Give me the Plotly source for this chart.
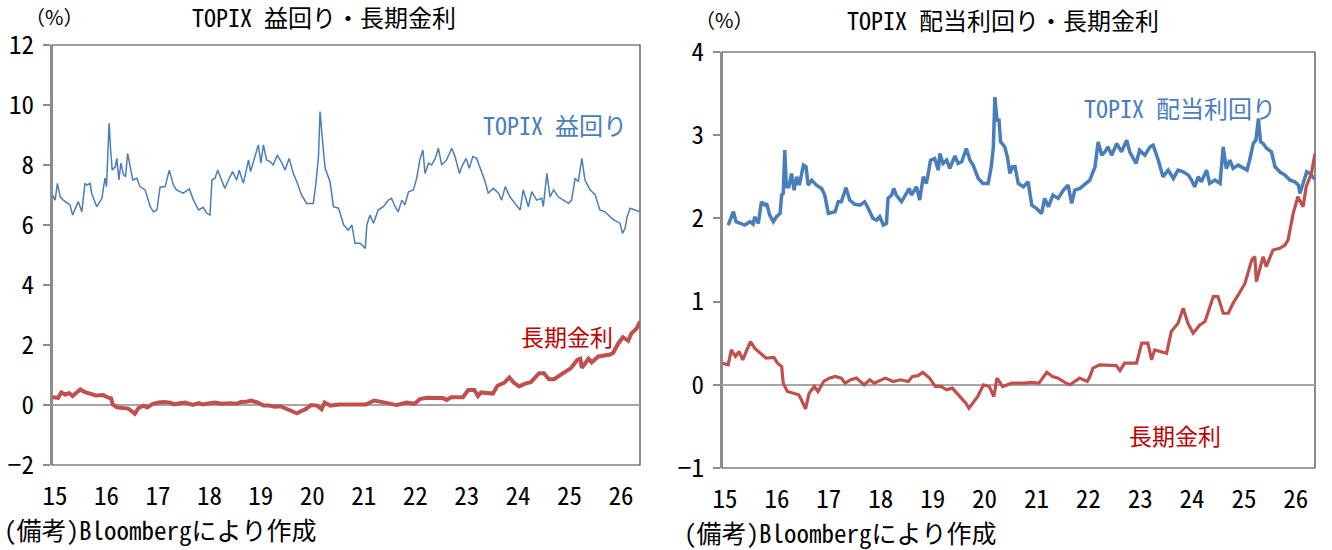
import plotly.graph_objects as go

# ---------------- data ----------------
XTICK_YEARS = [2015, 2016, 2017, 2018, 2019, 2020, 2021, 2022, 2023, 2024, 2025, 2026]
XTICK_TEXT = ["15", "16", "17", "18", "19", "20", "21", "22", "23", "24", "25", "26"]

# TOPIX earnings yield (%)
EY_T = [2014.95, 2015.00, 2015.045, 2015.10, 2015.16, 2015.29, 2015.34, 2015.45, 2015.52, 2015.58,
        2015.62, 2015.68, 2015.71, 2015.81, 2015.91, 2015.97, 2016.00, 2016.05, 2016.08, 2016.11,
        2016.17, 2016.20, 2016.24, 2016.28, 2016.33, 2016.37, 2016.41, 2016.46, 2016.51, 2016.59,
        2016.65, 2016.75, 2016.85, 2016.91, 2016.98, 2017.04, 2017.14, 2017.22, 2017.30, 2017.36,
        2017.49, 2017.61, 2017.69, 2017.79, 2017.88, 2017.95, 2018.01, 2018.05, 2018.11, 2018.16,
        2018.21, 2018.30, 2018.37, 2018.45, 2018.53, 2018.58, 2018.66, 2018.76, 2018.80, 2018.92,
        2018.95, 2019.00, 2019.05, 2019.11, 2019.18, 2019.24, 2019.32, 2019.41, 2019.47, 2019.55,
        2019.63, 2019.70, 2019.79, 2019.89, 2020.02, 2020.07, 2020.12, 2020.15, 2020.18, 2020.22,
        2020.25, 2020.31, 2020.345, 2020.41, 2020.51, 2020.61, 2020.70, 2020.77, 2020.83, 2020.93,
        2021.03, 2021.06, 2021.12, 2021.19, 2021.28, 2021.38, 2021.48, 2021.54, 2021.61, 2021.67,
        2021.74, 2021.80, 2021.87, 2021.965, 2022.03, 2022.09, 2022.15, 2022.19, 2022.26, 2022.32,
        2022.39, 2022.45, 2022.515, 2022.61, 2022.71, 2022.775, 2022.86, 2022.905, 2022.99, 2023.05,
        2023.12, 2023.195, 2023.29, 2023.36, 2023.42, 2023.52, 2023.62, 2023.68, 2023.75, 2023.84,
        2023.94, 2024.04, 2024.10, 2024.20, 2024.265, 2024.36, 2024.46, 2024.49, 2024.56, 2024.62,
        2024.69, 2024.78, 2024.88, 2024.98, 2025.04, 2025.11, 2025.17, 2025.24, 2025.30, 2025.40,
        2025.50, 2025.59, 2025.69, 2025.82, 2025.92, 2025.98, 2026.03, 2026.08, 2026.12, 2026.18,
        2026.27, 2026.37]
EY_V = [7.00, 6.83, 7.39, 6.94, 6.83, 6.67, 6.33, 6.78, 6.44, 7.39,
        7.33, 7.39, 7.06, 6.61, 6.89, 7.56, 7.28, 9.39, 8.50, 7.83,
        7.94, 8.22, 7.50, 8.06, 7.67, 7.61, 8.39, 7.89, 7.50, 7.56,
        7.28, 7.17, 6.61, 6.44, 6.50, 7.26, 7.28, 7.83, 7.33, 7.17,
        7.06, 7.20, 6.83, 6.50, 6.59, 6.39, 6.33, 7.50, 7.56, 7.83,
        7.61, 7.22, 7.50, 7.78, 7.50, 7.83, 7.39, 8.17, 7.78, 8.56,
        8.67, 8.06, 8.67, 8.17, 8.11, 8.00, 8.33, 8.06, 7.83, 8.22,
        7.72, 7.44, 7.00, 6.72, 6.72, 7.39, 8.28, 9.78, 9.06, 8.39,
        7.89, 7.56, 7.44, 6.61, 6.56, 6.00, 5.83, 6.00, 5.39, 5.39,
        5.22, 6.00, 6.33, 6.06, 6.50, 6.61, 6.83, 6.89, 6.61, 6.44,
        6.83, 6.67, 7.11, 7.17, 7.56, 8.17, 8.50, 7.72, 8.06, 8.00,
        8.22, 8.56, 8.00, 8.17, 8.56, 8.28, 7.72, 7.94, 8.22, 7.89,
        8.28, 8.22, 7.78, 7.44, 7.06, 7.22, 7.06, 6.83, 7.28, 6.94,
        6.72, 6.50, 7.17, 6.61, 7.11, 6.83, 6.89, 6.61, 7.72, 6.94,
        7.17, 6.94, 6.83, 6.72, 6.83, 7.56, 7.44, 8.22, 7.50, 7.17,
        7.00, 6.50, 6.44, 6.22, 6.11, 6.06, 5.72, 5.89, 6.28, 6.56,
        6.50, 6.44]

# TOPIX dividend yield (%)
DY_T = [2015.06, 2015.10, 2015.16, 2015.21, 2015.29, 2015.38, 2015.48, 2015.54, 2015.57, 2015.64,
        2015.70, 2015.77, 2015.80, 2015.86, 2015.93, 2015.99, 2016.06, 2016.09, 2016.12, 2016.15,
        2016.18, 2016.23, 2016.28, 2016.33, 2016.38, 2016.43, 2016.51, 2016.56, 2016.60, 2016.67,
        2016.76, 2016.86, 2016.92, 2016.99, 2017.12, 2017.18, 2017.24, 2017.33, 2017.40, 2017.50,
        2017.60, 2017.69, 2017.76, 2017.85, 2017.92, 2017.98, 2018.05, 2018.11, 2018.14, 2018.21,
        2018.25, 2018.30, 2018.40, 2018.46, 2018.55, 2018.59, 2018.69, 2018.75, 2018.82, 2018.88,
        2018.96, 2019.04, 2019.11, 2019.14, 2019.20, 2019.27, 2019.33, 2019.43, 2019.49, 2019.56,
        2019.65, 2019.72, 2019.78, 2019.88, 2019.97, 2020.07, 2020.13, 2020.17, 2020.20, 2020.24,
        2020.28, 2020.31, 2020.39, 2020.44, 2020.49, 2020.54, 2020.59, 2020.65, 2020.75, 2020.84,
        2020.91, 2021.00, 2021.10, 2021.16, 2021.23, 2021.32, 2021.42, 2021.52, 2021.61, 2021.68,
        2021.74, 2021.84, 2021.94, 2022.03, 2022.13, 2022.19, 2022.26, 2022.32, 2022.38, 2022.45,
        2022.55, 2022.64, 2022.74, 2022.80, 2022.92, 2022.99, 2023.09, 2023.19, 2023.25, 2023.35,
        2023.44, 2023.54, 2023.64, 2023.73, 2023.83, 2023.93, 2023.99, 2024.05, 2024.12, 2024.18,
        2024.28, 2024.34, 2024.44, 2024.54, 2024.60, 2024.66, 2024.73, 2024.79, 2024.89, 2024.99,
        2025.06, 2025.11, 2025.18, 2025.23, 2025.28, 2025.32, 2025.37, 2025.44, 2025.53, 2025.60,
        2025.69, 2025.79, 2025.89, 2025.98, 2026.05, 2026.08, 2026.14, 2026.21, 2026.27, 2026.33,
        2026.37]
DY_V = [1.92, 1.98, 2.08, 1.96, 1.94, 1.92, 1.96, 1.93, 2.02, 1.94,
        2.20, 2.16, 2.18, 2.04, 1.96, 2.02, 2.06, 2.28, 2.30, 2.82,
        2.38, 2.38, 2.54, 2.34, 2.50, 2.40, 2.64, 2.62, 2.40, 2.46,
        2.40, 2.36, 2.28, 2.06, 2.08, 2.20, 2.20, 2.37, 2.22, 2.17,
        2.16, 2.20, 2.12, 2.00, 1.98, 2.02, 1.92, 1.94, 2.24, 2.28,
        2.36, 2.28, 2.20, 2.26, 2.36, 2.28, 2.38, 2.22, 2.50, 2.42,
        2.70, 2.72, 2.58, 2.78, 2.66, 2.70, 2.60, 2.75, 2.66, 2.68,
        2.84, 2.70, 2.64, 2.48, 2.42, 2.42, 2.62, 2.86, 3.46, 3.18,
        3.18, 2.92, 2.86, 2.74, 2.54, 2.62, 2.62, 2.42, 2.38, 2.44,
        2.16, 2.12, 2.06, 2.24, 2.14, 2.28, 2.24, 2.34, 2.40, 2.18,
        2.34, 2.36, 2.42, 2.46, 2.62, 2.92, 2.76, 2.80, 2.86, 2.76,
        2.90, 2.80, 2.94, 2.80, 2.66, 2.82, 2.76, 2.86, 2.88, 2.70,
        2.50, 2.58, 2.48, 2.58, 2.56, 2.52, 2.46, 2.38, 2.50, 2.44,
        2.58, 2.42, 2.46, 2.42, 2.86, 2.60, 2.70, 2.60, 2.64, 2.60,
        2.58, 2.70, 2.90, 2.94, 3.20, 2.92, 2.90, 2.84, 2.80, 2.62,
        2.56, 2.52, 2.46, 2.44, 2.40, 2.30, 2.42, 2.56, 2.54, 2.50,
        2.47]

# 10-year JGB yield (%)
JGB_T = [2014.95, 2015.06, 2015.12, 2015.20, 2015.27, 2015.34, 2015.42, 2015.49, 2015.57, 2015.68,
         2015.79, 2015.94, 2016.01, 2016.09, 2016.12, 2016.20, 2016.31, 2016.42, 2016.47, 2016.55,
         2016.62, 2016.72, 2016.79, 2016.90, 2017.01, 2017.12, 2017.24, 2017.31, 2017.42, 2017.53,
         2017.68, 2017.79, 2017.87, 2018.09, 2018.24, 2018.38, 2018.53, 2018.61, 2018.72, 2018.81,
         2018.94, 2019.05, 2019.16, 2019.27, 2019.38, 2019.53, 2019.64, 2019.70, 2019.79, 2019.87,
         2019.98, 2020.09, 2020.18, 2020.24, 2020.35, 2020.53, 2020.76, 2020.90, 2021.05, 2021.20,
         2021.31, 2021.42, 2021.57, 2021.65, 2021.83, 2021.98, 2022.03, 2022.09, 2022.22, 2022.54,
         2022.61, 2022.70, 2022.93, 2023.03, 2023.15, 2023.22, 2023.28, 2023.41, 2023.51, 2023.60,
         2023.73, 2023.83, 2023.92, 2024.02, 2024.15, 2024.25, 2024.34, 2024.41, 2024.50, 2024.60,
         2024.70, 2024.79, 2024.89, 2025.02, 2025.15, 2025.21, 2025.24, 2025.37, 2025.43, 2025.56,
         2025.69, 2025.79, 2025.85, 2025.95, 2026.04, 2026.14, 2026.20, 2026.30, 2026.37]
JGB_V = [0.26, 0.24, 0.42, 0.34, 0.40, 0.30, 0.42, 0.52, 0.44, 0.38,
         0.32, 0.33, 0.26, 0.22, 0.02, -0.08, -0.10, -0.12, -0.18, -0.29,
         -0.10, -0.02, -0.08, 0.04, 0.08, 0.10, 0.08, 0.02, 0.06, 0.08,
         0.00, 0.06, 0.02, 0.08, 0.04, 0.06, 0.04, 0.10, 0.11, 0.15,
         0.08, -0.02, -0.02, -0.06, -0.04, -0.14, -0.22, -0.28, -0.20, -0.14,
         0.00, -0.02, -0.14, 0.08, -0.02, 0.02, 0.02, 0.03, 0.02, 0.15,
         0.10, 0.08, 0.02, 0.00, 0.08, 0.04, 0.10, 0.20, 0.24, 0.23,
         0.17, 0.26, 0.26, 0.50, 0.50, 0.30, 0.42, 0.40, 0.38, 0.64,
         0.74, 0.92, 0.74, 0.62, 0.72, 0.76, 0.94, 1.06, 1.06, 0.86,
         0.86, 0.98, 1.08, 1.22, 1.50, 1.54, 1.24, 1.54, 1.42, 1.62,
         1.64, 1.68, 1.74, 2.06, 2.26, 2.14, 2.38, 2.54, 2.78]

# ---------------- styling ----------------
FONT = "Noto Sans Mono CJK JP, Noto Sans CJK JP, sans-serif"
FONT_WIDE = "Noto Sans CJK JP, sans-serif"
BLUE = "#4A7EBB"
RED = "#C0504D"
LABEL_BLUE = "#4A7EBB"
LABEL_RED = "#C00000"
W, H = 1332, 550
XR = [2014.94, 2026.37]

fig = go.Figure()
fig.add_trace(go.Scatter(x=EY_T, y=EY_V, mode="lines", line=dict(color=BLUE, width=1.5),
                         xaxis="x", yaxis="y", showlegend=False, hoverinfo="skip"))
fig.add_trace(go.Scatter(x=JGB_T, y=JGB_V, mode="lines", line=dict(color=RED, width=4),
                         xaxis="x", yaxis="y", showlegend=False, hoverinfo="skip"))
fig.add_trace(go.Scatter(x=DY_T, y=DY_V, mode="lines", line=dict(color=BLUE, width=3.5),
                         xaxis="x2", yaxis="y2", showlegend=False, hoverinfo="skip"))
fig.add_trace(go.Scatter(x=JGB_T, y=JGB_V, mode="lines", line=dict(color=RED, width=3.2),
                         xaxis="x2", yaxis="y2", showlegend=False, hoverinfo="skip"))


def px_x(p):
    return p / W


def px_y(p):
    return 1 - p / H


common_x = dict(range=XR, tickvals=XTICK_YEARS, ticktext=XTICK_TEXT, showgrid=False,
                zeroline=False, showline=False, ticks="", ticklabelstandoff=14, automargin=False,
                tickfont=dict(size=25, color="#000000", family=FONT), fixedrange=True)
common_y = dict(showgrid=False, zeroline=True, zerolinecolor="#A6A6A6", zerolinewidth=2,
                showline=True, linecolor="#8C8C8C", linewidth=2, ticks="outside", ticklen=7,
                tickwidth=1.5, tickcolor="#8C8C8C", tickfont=dict(size=25, color="#000000", family=FONT),
                fixedrange=True, ticklabelstandoff=4, automargin=False)

fig.update_layout(
    width=W, height=H, margin=dict(l=0, r=0, t=0, b=0, autoexpand=False),
    paper_bgcolor="white", plot_bgcolor="white",
    font=dict(family=FONT, size=24, color="#000000"),
    xaxis=dict(domain=[px_x(52), px_x(640)], anchor="y", **common_x),
    yaxis=dict(domain=[px_y(465), px_y(45)], anchor="x", range=[-2, 12], dtick=2, **common_y),
    xaxis2=dict(domain=[px_x(722), px_x(1315)], anchor="y2", **common_x),
    yaxis2=dict(domain=[px_y(468), px_y(52)], anchor="x2", range=[-1, 4], dtick=1, **common_y),
)

# plot-area frames
for xr, yr in (("x", "y"), ("x2", "y2")):
    fig.add_shape(type="rect", xref=xr + " domain", yref=yr + " domain", x0=0, x1=1, y0=0, y1=1,
                  line=dict(color="#404040", width=1.2), layer="below")

ann = [
    dict(text="（%）", x=px_x(54), y=px_y(17), size=20, color="#000000", fam=FONT_WIDE),
    dict(text="TOPIX 益回り・長期金利", x=px_x(324), y=px_y(17), size=24, color="#000000", fam=FONT),
    dict(text="（%）", x=px_x(724), y=px_y(19), size=20, color="#000000", fam=FONT_WIDE),
    dict(text="TOPIX 配当利回り・長期金利", x=px_x(1003), y=px_y(19), size=24, color="#000000", fam=FONT),
    dict(text="TOPIX 益回り", x=px_x(555), y=px_y(124), size=24, color=LABEL_BLUE, fam=FONT),
    dict(text="長期金利", x=px_x(567), y=px_y(336), size=23, color=LABEL_RED, fam=FONT),
    dict(text="TOPIX 配当利回り", x=px_x(1180), y=px_y(108), size=24, color=LABEL_BLUE, fam=FONT),
    dict(text="長期金利", x=px_x(1175), y=px_y(435), size=23, color=LABEL_RED, fam=FONT),
]
for a in ann:
    fig.add_annotation(text=a["text"], x=a["x"], y=a["y"], xref="paper", yref="paper",
                       xanchor="center", yanchor="middle", showarrow=False, borderpad=0,
                       font=dict(size=a["size"], color=a["color"], family=a["fam"]))

for xpx, ypx in ((2, 529), (682, 532)):
    fig.add_annotation(text="(備考)Bloombergにより作成", x=px_x(xpx), y=px_y(ypx), xref="paper",
                       yref="paper", xanchor="left", yanchor="middle", showarrow=False,
                       font=dict(size=25, color="#000000", family=FONT))

fig.write_html("out.html")
